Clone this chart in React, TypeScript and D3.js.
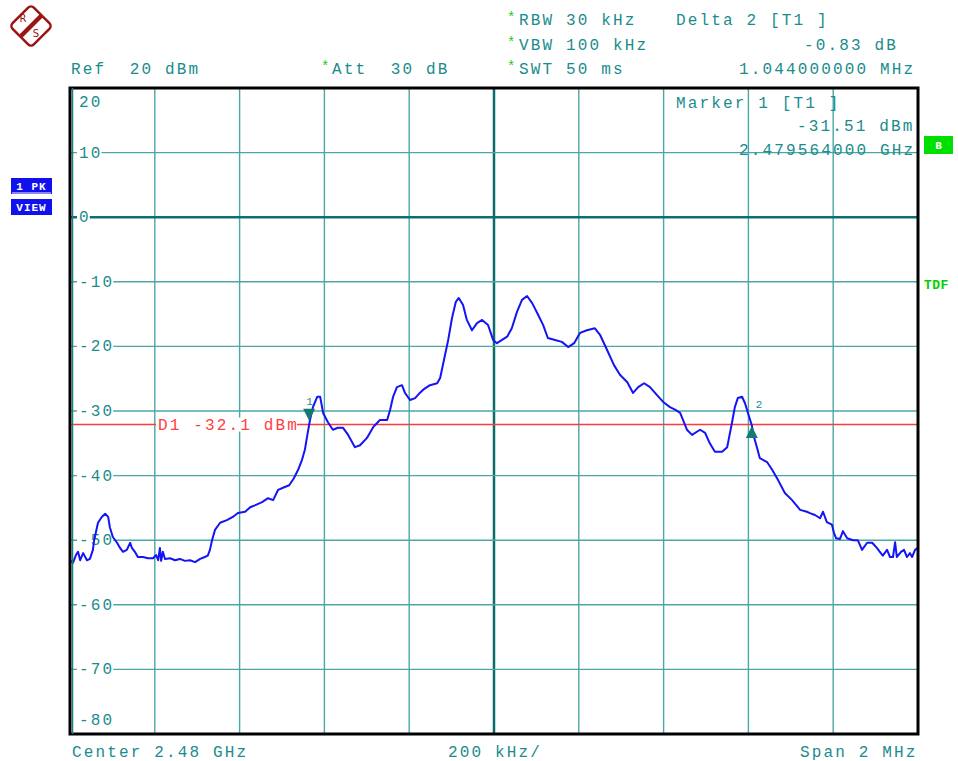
import React, { useEffect, useRef } from "react";
import * as d3 from "d3";

// Frequency offset from centre (kHz) and trace level (dBm)
const freqOffsetKHz = [
  -1000, -993, -986, -981, -976, -969, -960, -953, -946, -943, -934, -925, -917, -910, -906, -899, -889, -882, -875, -866,
  -858, -854, -847, -840, -828, -816, -804, -797, -792, -788, -785, -781, -776, -764, -752, -741, -729, -717, -705, -693,
  -682, -675, -670, -665, -658, -646, -630, -616, -604, -587, -575, -564, -547, -533, -521, -509, -495, -483, -472, -462,
  -453, -446, -441, -434, -427, -417, -410, -403, -392, -380, -368, -356, -344, -328, -316, -300, -285, -269, -252, -245,
  -238, -229, -217, -210, -198, -186, -175, -167, -151, -134, -127, -118, -108, -99, -90, -83, -73, -64, -52, -40,
  -28, -14, -2, 7, 19, 31, 42, 54, 66, 78, 90, 104, 116, 127, 144, 160, 175, 189, 203, 219,
  238, 250, 267, 283, 297, 314, 328, 340, 354, 368, 384, 399, 415, 427, 439, 455, 467, 486, 498, 509,
  521, 538, 550, 561, 568, 575, 585, 592, 599, 608, 613, 620, 627, 644, 656, 670, 686, 703, 722, 738,
  745, 757, 769, 776, 785, 797, 802, 807, 816, 823, 833, 847, 858, 868, 880, 892, 903, 910, 917, 927,
  934, 941, 946, 950, 960, 967, 974, 981, 986, 993, 1000,
];
const levelDbm = [
  -53.1, -53.5, -52.3, -51.8, -53.1, -52.0, -53.1, -52.9, -51.5, -50.0, -47.3, -46.4, -45.9, -46.4, -48.0, -49.5, -50.4, -51.2, -51.8, -51.5,
  -50.4, -51.2, -51.8, -52.6, -52.6, -52.8, -52.8, -52.3, -53.1, -51.2, -53.2, -51.8, -52.9, -52.8, -53.1, -52.9, -53.2, -53.1, -53.4, -52.9,
  -52.6, -52.4, -51.5, -50.0, -48.4, -47.3, -46.9, -46.4, -45.8, -45.6, -44.9, -44.6, -44.1, -43.5, -43.8, -42.2, -41.8, -41.5, -40.4, -39.1,
  -37.6, -36.0, -34.0, -31.4, -29.4, -27.8, -27.8, -30.3, -31.7, -32.9, -32.6, -32.6, -33.7, -35.6, -35.3, -34.2, -32.5, -31.4, -31.4, -29.8,
  -27.8, -26.3, -26.0, -27.2, -28.3, -28.0, -27.2, -26.7, -26.0, -25.7, -24.9, -22.1, -19.0, -15.6, -13.1, -12.5, -13.6, -15.9, -17.5, -16.4,
  -15.9, -16.7, -19.0, -19.5, -19.0, -18.5, -17.2, -14.7, -12.8, -12.2, -13.3, -15.1, -16.7, -18.7, -19.0, -19.3, -20.1, -19.5, -17.9, -17.5,
  -17.2, -18.2, -20.6, -22.9, -24.4, -25.5, -27.2, -26.3, -25.7, -26.3, -27.5, -28.6, -29.4, -29.8, -30.3, -32.9, -33.7, -32.9, -33.4, -35.0,
  -36.3, -36.3, -35.6, -31.9, -29.4, -28.0, -27.8, -28.8, -30.3, -32.2, -34.0, -35.6, -37.3, -37.9, -39.1, -40.7, -42.7, -43.8, -45.3, -45.6,
  -45.8, -46.1, -46.6, -45.6, -47.2, -47.6, -48.9, -49.7, -49.8, -48.6, -49.7, -50.0, -50.0, -51.5, -50.4, -50.4, -51.2, -51.8, -52.4, -51.5,
  -52.6, -52.6, -50.3, -52.6, -51.8, -51.5, -52.6, -52.0, -52.6, -51.5, -51.2,
];

const yTicks = [10, 0, -10, -20, -30, -40, -50, -60, -70];
const yTickLabels = ["10", "0", "-10", "-20", "-30", "-40", "-50", "-60", "-70"];
const refLevel = 20;
const bottomLevel = -80;
const spanKHz = 2000;
const xDivisions = 10;

const markerFreqKHz = [-436, 608];
const markerLevelDbm = [-31.51, -32.34];
const markerNames = ["1", "2"];
const displayLineDbm = -32.1;

const headerLeft = ["RBW 30 kHz", "VBW 100 kHz", "SWT 50 ms"];
const deltaText = ["Delta 2 [T1 ]", "-0.83 dB", "1.044000000 MHz"];
const markerText = ["Marker 1 [T1 ]", "-31.51 dBm", "2.479564000 GHz"];

const TEAL = "#1a8c8c";
const GRID = "#4da6a6";
const FONT = "'Liberation Mono', 'DejaVu Sans Mono', monospace";
const CW = 11.75;
const FS = 16;
const LS = CW - 0.6 * FS;

export default function App() {
  const ref = useRef<SVGSVGElement>(null);

  useEffect(() => {
    const svg = d3.select(ref.current);
    svg.selectAll("*").remove();

    const L = 70, R = 918, T = 88, B = 734;
    const x = d3.scaleLinear().domain([-spanKHz / 2, spanKHz / 2]).range([L, R]);
    const y = d3.scaleLinear().domain([bottomLevel, refLevel]).range([B, T]);

    const txt = (g: any, s: string, tx: number, ty: number, color = TEAL) =>
      g.append("text").attr("x", tx).attr("y", ty).attr("fill", color)
        .attr("font-family", FONT).attr("font-size", FS)
        .attr("letter-spacing", LS).attr("xml:space", "preserve")
        .style("white-space", "pre").text(s);

    // logo
    const RED = "#9a1414";
    const logo = svg.append("g").attr("transform", "translate(31,26)");
    logo.append("rect").attr("x", -15).attr("y", -15).attr("width", 30).attr("height", 30)
      .attr("rx", 4).attr("transform", "rotate(45)").attr("fill", "#fff")
      .attr("stroke", RED).attr("stroke-width", 2.5);
    logo.append("line").attr("x1", -10).attr("y1", 10).attr("x2", 10).attr("y2", -10)
      .attr("stroke", RED).attr("stroke-width", 4.5);
    logo.append("text").attr("x", -8).attr("y", -4).attr("font-size", 10).attr("fill", RED)
      .attr("font-family", "DejaVu Sans").attr("text-anchor", "middle").text("R");
    logo.append("text").attr("x", 5).attr("y", 11).attr("font-size", 10).attr("fill", RED)
      .attr("font-family", "DejaVu Sans").attr("text-anchor", "middle").text("S");

    // header
    headerLeft.forEach((s, i) => {
      txt(svg, s, 519, 25 + i * 24.5);
      svg.append("text").attr("x", 507).attr("y", 22 + i * 24.5).attr("fill", "#22cc22")
        .attr("font-size", 14).attr("font-family", FONT).text("*");
    });
    txt(svg, "Ref  20 dBm", 71, 74);
    svg.append("text").attr("x", 321).attr("y", 71).attr("fill", "#22cc22")
      .attr("font-size", 14).attr("font-family", FONT).text("*");
    txt(svg, "Att  30 dB", 332, 74);
    txt(svg, deltaText[0], 676, 25);
    txt(svg, deltaText[1], 804, 50);
    txt(svg, deltaText[2], 739, 74);

    // grid
    const grid = svg.append("g");
    d3.range(1, xDivisions).forEach((i) => {
      const f = -spanKHz / 2 + (i * spanKHz) / xDivisions;
      grid.append("line").attr("x1", x(f)).attr("x2", x(f)).attr("y1", T).attr("y2", B)
        .attr("stroke", i === 5 ? "#0d6b6b" : GRID).attr("stroke-width", i === 5 ? 2.5 : 1.4);
    });
    yTicks.forEach((t) => {
      grid.append("line").attr("x1", L).attr("x2", R).attr("y1", y(t)).attr("y2", y(t))
        .attr("stroke", t === 0 ? "#0d7070" : GRID).attr("stroke-width", t === 0 ? 2.5 : 1.4);
    });

    // y labels
    yTicks.forEach((t, i) => {
      const s = yTickLabels[i];
      grid.append("rect").attr("x", 77).attr("y", y(t) - 7).attr("width", s.length * CW + 1)
        .attr("height", 14).attr("fill", "#fff");
      txt(grid, s, 79, y(t) + 5);
    });
    txt(grid, "20", 79, 107);
    txt(grid, "-80", 79, 725);

    // marker info text
    txt(svg, markerText[0], 676, 108);
    txt(svg, markerText[1], 797, 131);
    txt(svg, markerText[2], 739, 155);

    // display line
    svg.append("line").attr("x1", L).attr("x2", R).attr("y1", y(displayLineDbm)).attr("y2", y(displayLineDbm))
      .attr("stroke", "#ff3a3a").attr("stroke-width", 1.5);
    svg.append("rect").attr("x", 156).attr("y", y(displayLineDbm) - 7).attr("width", 12 * CW)
      .attr("height", 14).attr("fill", "#fff");
    txt(svg, "D1 -32.1 dBm", 158, y(displayLineDbm) + 5, "#ff4040");

    // trace
    const line = d3.line<number>().x((d, i) => x(freqOffsetKHz[i])).y((d) => y(d));
    svg.append("path").attr("d", line(levelDbm) as string).attr("fill", "none")
      .attr("stroke", "#1414f5").attr("stroke-width", 2).attr("stroke-linejoin", "round");

    // markers
    markerFreqKHz.forEach((f, i) => {
      const mx = x(f), my = y(markerLevelDbm[i]);
      const dir = i === 0 ? -1 : 1;
      const p = d3.path();
      p.moveTo(mx, my);
      p.lineTo(mx - 6, my + dir * 12);
      p.lineTo(mx + 6, my + dir * 12);
      p.closePath();
      svg.append("path").attr("d", p.toString()).attr("fill", "#127a72");
      svg.append("text").attr("x", mx + (i === 0 ? -3 : 4)).attr("y", i === 0 ? my - 16 : my - 18)
        .attr("fill", TEAL).attr("font-size", 11).attr("font-family", FONT).text(markerNames[i]);
    });

    // frame
    svg.append("rect").attr("x", L).attr("y", T).attr("width", R - L).attr("height", B - T)
      .attr("fill", "none").attr("stroke", "#000").attr("stroke-width", 3);
    svg.append("line").attr("x1", L + 2.5).attr("x2", L + 2.5).attr("y1", T).attr("y2", B)
      .attr("stroke", "#1f7f7f").attr("stroke-width", 1.5);

    // bottom text
    txt(svg, "Center 2.48 GHz", 72, 757);
    txt(svg, "200 kHz/", 448, 757);
    txt(svg, "Span 2 MHz", 800, 757);

    // side boxes
    const side = [["1 PK", 178], ["VIEW", 199]] as const;
    side.forEach(([s, yy]) => {
      svg.append("rect").attr("x", 11).attr("y", yy).attr("width", 41).attr("height", 16).attr("fill", "#1111ee");
      svg.append("text").attr("x", 31.5).attr("y", yy + 12).attr("fill", "#fff").attr("font-size", 11)
        .attr("font-weight", "bold").attr("text-anchor", "middle").attr("font-family", FONT)
        .attr("letter-spacing", 1).text(s);
    });
    svg.append("line").attr("x1", 12).attr("x2", 51).attr("y1", 193).attr("y2", 193).attr("stroke", "#fff").attr("stroke-width", 1);
    svg.append("rect").attr("x", 924).attr("y", 136).attr("width", 29).attr("height", 18).attr("fill", "#00e000");
    svg.append("text").attr("x", 938.5).attr("y", 149).attr("fill", "#fff").attr("font-size", 11)
      .attr("font-weight", "bold").attr("text-anchor", "middle").attr("font-family", FONT).text("B");
    svg.append("text").attr("x", 924).attr("y", 289).attr("fill", "#00d000").attr("font-size", 13)
      .attr("font-weight", "bold").attr("font-family", FONT).attr("letter-spacing", 0.5).text("TDF");
  }, []);

  return (
    <div style={{ position: "absolute", left: 0, top: 0 }}>
      <svg ref={ref} width={958} height={761} style={{ display: "block", background: "#fff" }} />
    </div>
  );
}
